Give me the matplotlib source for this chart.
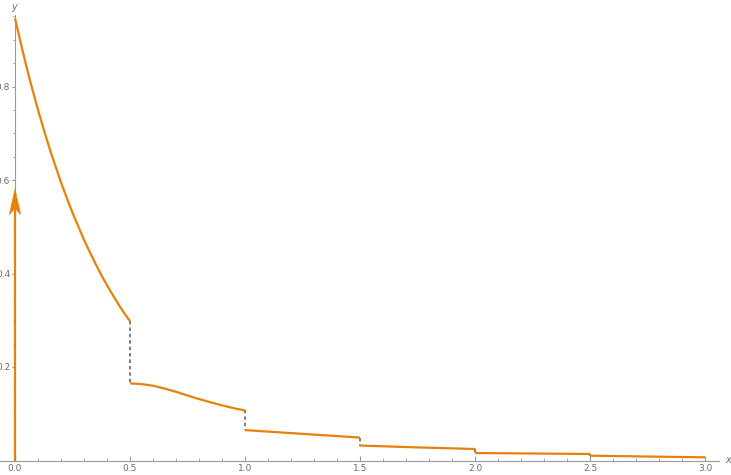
import numpy as np
import matplotlib.pyplot as plt
from matplotlib.patches import Polygon
from matplotlib.ticker import MultipleLocator
import matplotlib.transforms as mtransforms

ORANGE = "#E8800E"
AXIS_GREY = "#9a9a9a"
LABEL_GREY = "#6f6f6f"

# piecewise curve
seg1_x = [0.0, 0.025, 0.05, 0.075, 0.1, 0.125, 0.15, 0.175, 0.2, 0.225, 0.25,
          0.275, 0.3, 0.325, 0.35, 0.375, 0.4, 0.425, 0.45, 0.475, 0.5]
seg1_y = [0.946, 0.893, 0.842, 0.795, 0.750, 0.708, 0.668, 0.631, 0.595, 0.562, 0.530,
          0.501, 0.472, 0.446, 0.421, 0.397, 0.375, 0.354, 0.334, 0.315, 0.298]
seg2_x = [0.5, 0.55, 0.6, 0.65, 0.7, 0.75, 0.8, 0.85, 0.9, 0.95, 1.0]
seg2_y = [0.165, 0.1635, 0.160, 0.154, 0.147, 0.139, 0.1315, 0.1245, 0.118, 0.112, 0.107]
seg3_x = [1.0, 1.25, 1.5]
seg3_y = [0.065, 0.057, 0.049]
seg4_x = [1.5, 1.75, 2.0]
seg4_y = [0.032, 0.028, 0.0246]
seg5_x = [2.0, 2.25, 2.5]
seg5_y = [0.016, 0.015, 0.0139]
seg6_x = [2.5, 2.75, 3.0]
seg6_y = [0.0103, 0.0085, 0.0068]

# point mass at x = 0
delta_x = 0.0
delta_height = 0.58

segments = [(seg1_x, seg1_y), (seg2_x, seg2_y), (seg3_x, seg3_y),
            (seg4_x, seg4_y), (seg5_x, seg5_y), (seg6_x, seg6_y)]

fig = plt.figure(figsize=(7.31, 4.75), dpi=100)
ax = fig.add_axes([0.0, 14.5 / 475, 719 / 731, 445.5 / 475])
ax.set_xlim(-15 / 230, 704 / 230)
ax.set_ylim(0, 445.5 / 467.5)

for spine in ["top", "right"]:
    ax.spines[spine].set_visible(False)
ax.spines["left"].set_position(("data", 0))
ax.spines["bottom"].set_position(("data", 0))
for spine in ["left", "bottom"]:
    ax.spines[spine].set_color(AXIS_GREY)
    ax.spines[spine].set_linewidth(0.8)

ax.xaxis.set_minor_locator(MultipleLocator(0.1))
ax.yaxis.set_minor_locator(MultipleLocator(0.05))
ax.set_xticks([0.0, 0.5, 1.0, 1.5, 2.0, 2.5, 3.0])
ax.set_yticks([0.2, 0.4, 0.6, 0.8])
ax.xaxis.set_major_formatter(plt.FuncFormatter(lambda v, p: f"{v:.1f}"))
ax.yaxis.set_major_formatter(plt.FuncFormatter(lambda v, p: f"{v:.1f}"))

ax.tick_params(axis="x", which="major", direction="in", length=3.5, width=0.8,
               color=AXIS_GREY, labelcolor=LABEL_GREY, labelsize=6.5, pad=2.5)
ax.tick_params(axis="x", which="minor", direction="in", length=2.2, width=0.6,
               color=AXIS_GREY)
ax.tick_params(axis="y", which="major", direction="out", length=2.5, width=0.8,
               color=AXIS_GREY, labelcolor=LABEL_GREY, labelsize=6.5, pad=1)
ax.tick_params(axis="y", which="minor", direction="out", length=1.8, width=0.6,
               color=AXIS_GREY)

# jumps between pieces
for (xa, ya), (xb, yb) in zip(segments[:-1], segments[1:]):
    ax.plot([xa[-1], xb[0]], [ya[-1], yb[0]], color="#555555", lw=1.1,
            ls=(0, (2.2, 2.0)), zorder=2)

for xs, ys in segments:
    ax.plot(xs, ys, color=ORANGE, lw=1.6, solid_capstyle="butt", zorder=3)

# arrow for the point mass
ax.plot([delta_x, delta_x], [0, delta_height - 0.04], color=ORANGE, lw=1.6,
        solid_capstyle="butt", zorder=3, clip_on=False)
trans = fig.dpi_scale_trans + mtransforms.ScaledTranslation(
    delta_x, delta_height, ax.transData)
head = Polygon([(0, 0), (0.056, -0.25), (0, -0.19), (-0.056, -0.25)],
               closed=True, transform=trans, facecolor=ORANGE,
               edgecolor=ORANGE, lw=0.5, zorder=4, clip_on=False)
ax.add_patch(head)

fig.text(14 / 731, 1 - 7 / 475, "y", color=LABEL_GREY, fontsize=7,
         style="italic", ha="center", va="center")
fig.text(728 / 731, 1 - 460 / 475, "x", color=LABEL_GREY, fontsize=7,
         style="italic", ha="center", va="center")

fig.savefig("out.png", dpi=100)
